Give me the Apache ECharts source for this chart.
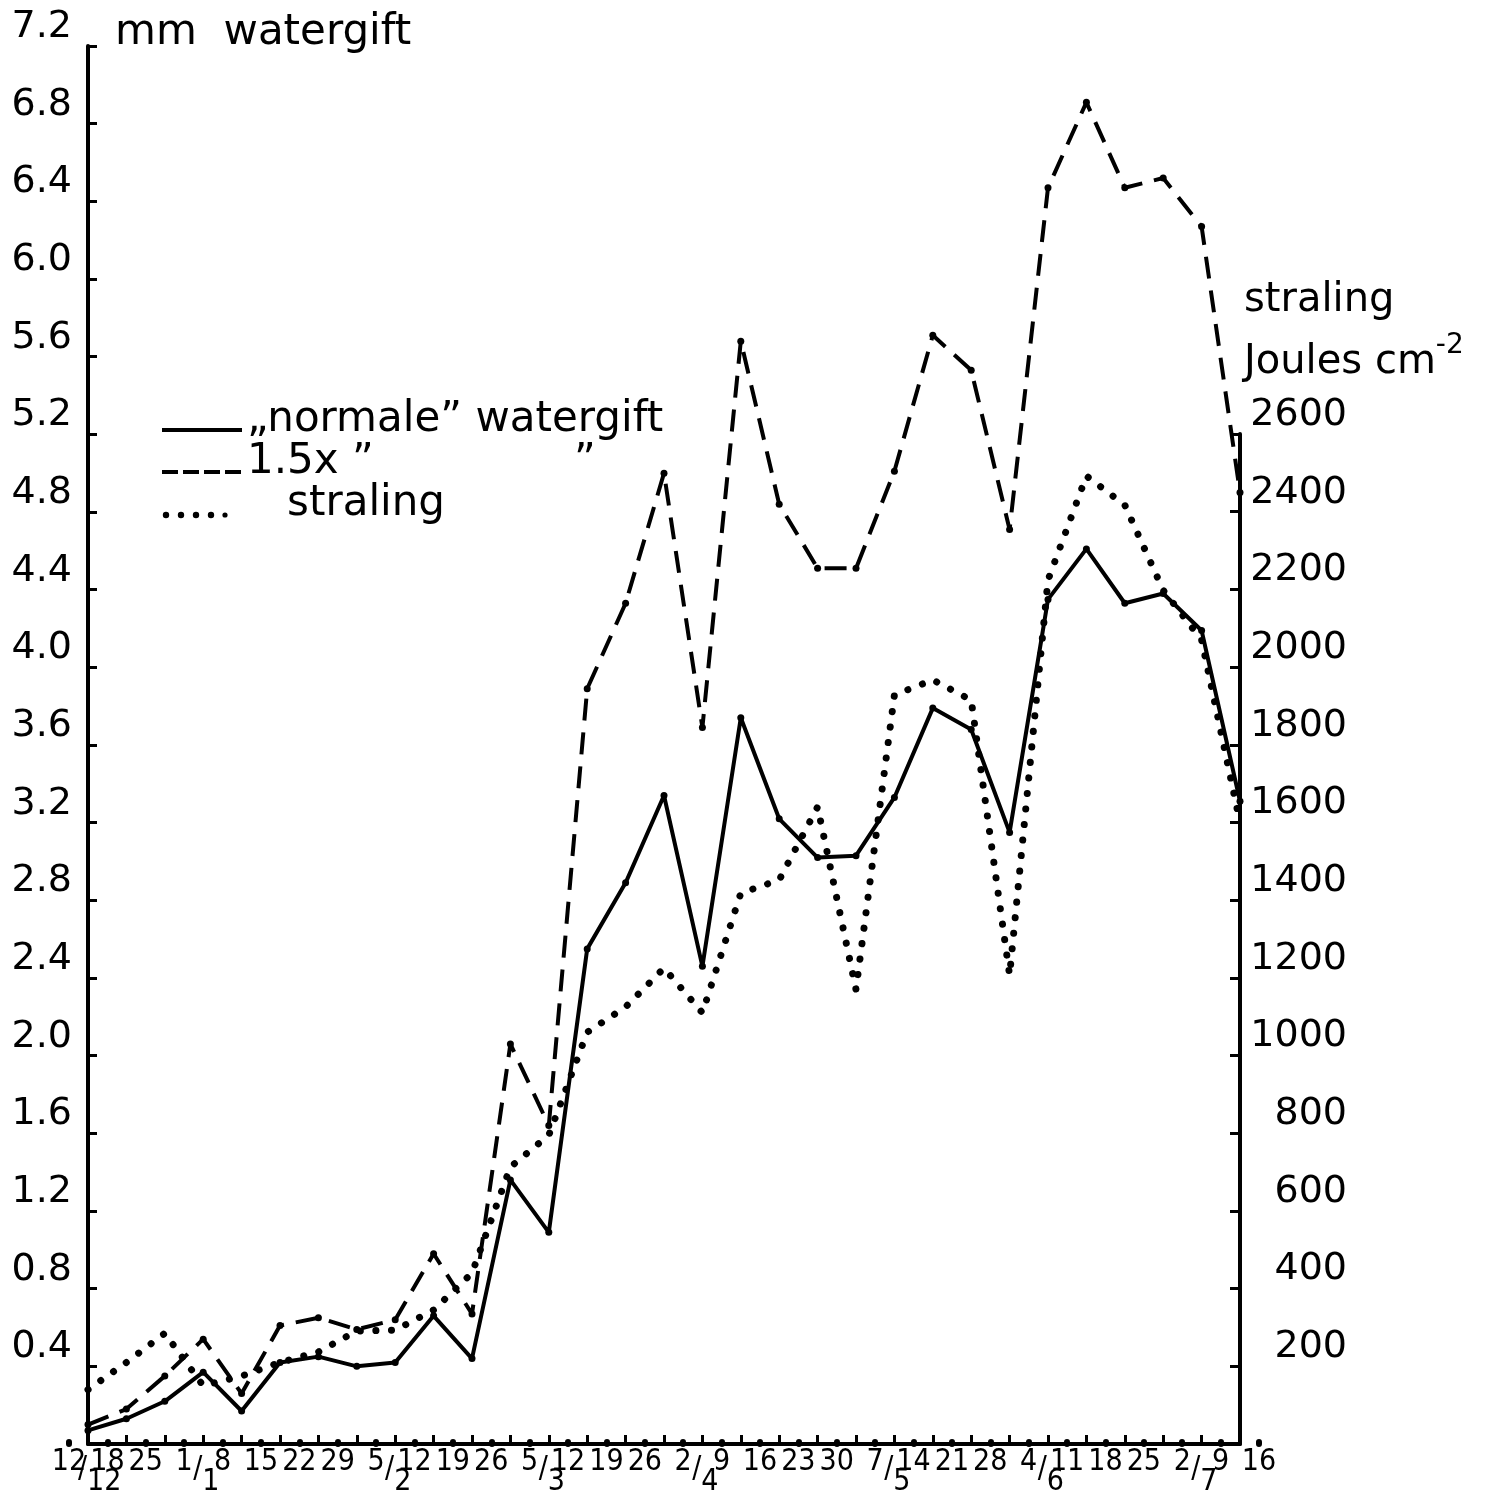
<!DOCTYPE html>
<html>
<head>
<meta charset="utf-8">
<script src="https://cdn.jsdelivr.net/npm/echarts@6/dist/echarts.min.js"></script>
<style>html,body{margin:0;padding:0;background:#fff}#c{width:1495px;height:1499px}</style>
</head>
<body>
<div id="c"></div>
<script>
// Week boundary dates (day/month) used as x tick labels
const dateLabels = ['12/12','18/12','25/12','1/1','8/1','15/1','22/1','29/1','5/2','12/2','19/2','26/2','5/3','12/3','19/3','26/3','2/4','9/4','16/4','23/4','30/4','7/5','14/5','21/5','28/5','4/6','11/6','18/6','25/6','2/7','9/7','16/7'];
const weeks = dateLabels.slice(0, 31);
// mm watergift, "normale" watergift
const normale = [0.07,0.13,0.22,0.37,0.17,0.42,0.45,0.40,0.42,0.66,0.44,1.36,1.09,2.55,2.89,3.34,2.46,3.74,3.22,3.02,3.03,3.33,3.79,3.68,3.15,4.35,4.61,4.33,4.38,4.19,3.31];
// mm watergift, 1.5x
const anderhalf = [0.10,0.18,0.35,0.54,0.26,0.61,0.65,0.59,0.64,0.98,0.67,2.06,1.64,3.89,4.33,5.00,3.69,5.68,4.84,4.51,4.51,5.01,5.71,5.53,4.71,6.47,6.91,6.47,6.52,6.27,4.90];
// straling, Joules cm-2
const straling = [140,210,285,150,175,210,237,291,293,345,440,713,795,1060,1125,1225,1110,1418,1452,1640,1170,1928,1967,1915,1207,2224,2492,2417,2198,2070,1600];

const seriesNames = ['„normale” watergift', '1.5x watergift', 'straling'];
const legendTexts = ['„normale” watergift', '1.5x ”               ”', '   straling'];

const F = 'DejaVu Sans';
const NARROW = '"DejaVu Sans Condensed", "Liberation Sans Narrow", sans-serif';

function isMonthStart(i) {
  if (i === 0) return true;
  return dateLabels[i].split('/')[1] !== dateLabels[i-1].split('/')[1];
}

const speck0 = 'M0,0h0.01v0.01h-0.01z ';
const speck1 = ' M79.99,29.99h0.01v0.01h-0.01z';
const iconSolid = 'path://' + speck0 + 'M0,23h80v4h-80z' + speck1;
const iconDash = 'path://' + speck0 + 'M0,23h16v4h-16z M21,23h16v4h-16z M42,23h16v4h-16z M63,23h16v4h-16z' + speck1;
function dot(cx, cy, r){ return 'M'+(cx-r)+','+cy+'a'+r+','+r+' 0 1,0 '+(2*r)+',0a'+r+','+r+' 0 1,0 '+(-2*r)+',0z '; }
const iconDots = 'path://' + speck0 + dot(4,26,3.2) + dot(19,26,3.2) + dot(34,26,3.2) + dot(49,26,3.2) + dot(63,26,2.6) + speck1;

const chart = echarts.init(document.getElementById('c'), null, {renderer:'canvas'});
chart.setOption({
  backgroundColor: '#fff',
  animation: false,
  textStyle: {fontFamily: F, color: '#000'},
  grid: [
    {left: 88, right: 255, top: 46, bottom: 55},
    {left: 88, right: 255, top: 434, bottom: 55},
    {left: 69, right: 236, top: 46, bottom: 55}
  ],
  legend: {
    orient: 'vertical', left: 157, top: 394,
    itemWidth: 80, itemHeight: 30, itemGap: 0,
    textStyle: {fontFamily: F, fontSize: 42, lineHeight: 38, color: '#000'},
    formatter: function(n){ return legendTexts[seriesNames.indexOf(n)]; },
    data: [
      {name: seriesNames[0], icon: iconSolid},
      {name: seriesNames[1], icon: iconDash},
      {name: seriesNames[2], icon: iconDots}
    ],
    itemStyle: {color: '#000'}
  },
  xAxis: [
    {gridIndex: 0, type: 'category', position: 'bottom', data: weeks, boundaryGap: false,
     axisLine: {onZero: false, lineStyle: {color: '#000', width: 4}},
     axisTick: {inside: true, length: 9, interval: 0, lineStyle: {color: '#000', width: 3}},
     axisLabel: {show: false}, splitLine: {show: false}},
    {gridIndex: 1, type: 'category', position: 'bottom', data: weeks, boundaryGap: false, show: false},
    {gridIndex: 2, type: 'category', position: 'bottom', data: dateLabels, boundaryGap: false,
     axisLine: {show: false, onZero: false},
     axisTick: {show: true, inside: true, length: 2, interval: 0, lineStyle: {color: '#000', width: 6, cap: 'round'}},
     axisLabel: {interval: 0, margin: 3, fontFamily: NARROW, fontSize: 30, color: '#000',
       formatter: function(v){ return v.split('/')[0]; }}},
    {gridIndex: 2, type: 'category', position: 'bottom', offset: 0, data: dateLabels, boundaryGap: false,
     axisLine: {show: false, onZero: false}, axisTick: {show: false},
     axisLabel: {interval: 0, margin: 17, align: 'left', padding: [0,0,0,9], color: '#000',
       formatter: function(v, i){ return isMonthStart(i) ? '{s|/}{m|' + v.split('/')[1] + '}' : ''; },
       rich: {
         s: {fontFamily: NARROW, fontSize: 30, lineHeight: 30, padding: [0,0,13,0], color: '#000'},
         m: {fontFamily: NARROW, fontSize: 30, lineHeight: 30, padding: [13,0,0,0], color: '#000'}
       }}}
  ],
  yAxis: [
    {gridIndex: 0, type: 'value', min: 0, max: 7.2, interval: 0.4, position: 'left',
     axisLine: {show: true, lineStyle: {color: '#000', width: 4}},
     axisTick: {show: true, inside: true, length: 9, lineStyle: {color: '#000', width: 3}},
     axisLabel: {fontFamily: F, fontSize: 38, color: '#000', margin: 16, verticalAlign: 'bottom',
       formatter: function(v){ return v === 0 ? '' : v.toFixed(1); }},
     splitLine: {show: false},
     name: 'mm  watergift', nameLocation: 'end', nameGap: 13,
     nameTextStyle: {fontFamily: F, fontSize: 42, color: '#000', align: 'left', verticalAlign: 'middle', padding: [0,0,0,27]}},
    {gridIndex: 1, type: 'value', min: 0, max: 2600, interval: 200, position: 'right',
     axisLine: {show: true, lineStyle: {color: '#000', width: 4}},
     axisTick: {show: true, inside: true, length: 10, lineStyle: {color: '#000', width: 3}},
     axisLabel: {fontFamily: F, fontSize: 38, color: '#000', margin: 107, align: 'right', verticalAlign: 'bottom',
       formatter: function(v){ return v === 0 ? '' : String(v); }},
     splitLine: {show: false},
     name: '{a|straling}\n{a|Joules cm}{sup|-2}', nameLocation: 'end', nameGap: 40,
     nameTextStyle: {align: 'left', verticalAlign: 'bottom', padding: [0,0,0,4],
       rich: {
         a: {fontFamily: F, fontSize: 40, lineHeight: 62, color: '#000'},
         sup: {fontFamily: F, fontSize: 28, lineHeight: 28, verticalAlign: 'top', color: '#000'}
       }}},
    {gridIndex: 2, type: 'value', show: false}
  ],
  series: [
    {name: seriesNames[2], type: 'line', xAxisIndex: 1, yAxisIndex: 1, data: straling,
     symbol: 'none', lineStyle: {color: '#000', width: 7, type: [0.1, 15.5], cap: 'round'},
     itemStyle: {color: '#000'}, z: 2},
    {name: seriesNames[1], type: 'line', xAxisIndex: 0, yAxisIndex: 0, data: anderhalf,
     symbol: 'circle', symbolSize: 7, lineStyle: {color: '#000', width: 4, type: [22, 12]},
     itemStyle: {color: '#000'}, z: 3},
    {name: seriesNames[0], type: 'line', xAxisIndex: 0, yAxisIndex: 0, data: normale,
     symbol: 'circle', symbolSize: 7, lineStyle: {color: '#000', width: 4},
     itemStyle: {color: '#000'}, z: 4}
  ]
});
</script>
</body>
</html>
